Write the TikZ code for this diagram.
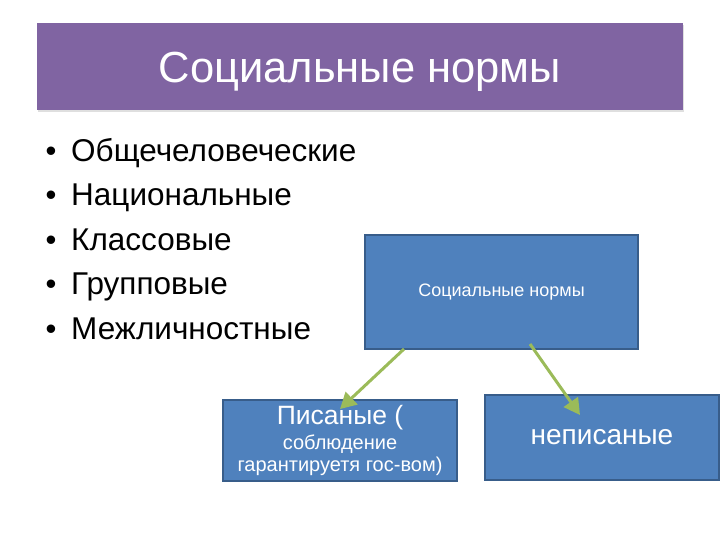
\documentclass[tikz,border=0pt]{standalone}
\usepackage{fontspec}
\setmainfont{Liberation Sans}
\usetikzlibrary{arrows.meta,shadows}
\definecolor{titlepurple}{HTML}{8064A2}
\definecolor{boxblue}{HTML}{4F81BD}
\definecolor{boxborder}{HTML}{385D8A}
\definecolor{arrowgreen}{HTML}{9BBB59}
\tikzset{
  bluebox/.style={draw=boxborder, line width=1.2pt, fill=boxblue, text=white, align=center, inner sep=0pt},
  greenarrow/.style={draw=arrowgreen, line width=3pt, -{Triangle[length=16pt,width=17pt]}},
  bulletitem/.style={anchor=base west, font=\fontsize{31.5}{34}\selectfont, inner sep=0pt},
}
\begin{document}
\begin{tikzpicture}[x=1pt,y=-1pt]
\useasboundingbox (0,0) rectangle (720,540);
% title
\node[fill=titlepurple, minimum width=646pt, minimum height=87pt, inner sep=0pt,
      drop shadow={shadow xshift=1pt, shadow yshift=-2pt, fill=black!25}] (title) at (360,66.5) {};
\node[text=white, font=\fontsize{43.5}{46}\selectfont, anchor=base, inner sep=0pt] (titletext) at (360,82.5) {Социальные нормы};
% bullets
\foreach \t/\y [count=\i] in {Общечеловеческие/162, Национальные/206, Классовые/250, Групповые/294, Межличностные/339}{
  \node[bulletitem] (b\i) at (71,\y) {\t};
  \node[font=\fontsize{31}{34}\selectfont, inner sep=0pt, anchor=base] (d\i) at (51,\y) {•};
}
% boxes
\node[bluebox, minimum width=273pt, minimum height=114pt, font=\fontsize{18}{20}\selectfont] (root) at (501.5,292) {Социальные нормы};
\node[bluebox, minimum width=234pt, minimum height=81pt, font=\fontsize{20}{21}\selectfont] (left) at (340,440.5)
  {{\fontsize{26.5}{27}\selectfont Писаные (}\\[4pt]соблюдение\\[1pt]гарантируетя гос-вом)};
\node[bluebox, minimum width=234pt, minimum height=85pt, font=\fontsize{28}{30}\selectfont] (right) at (602,437.5) {неписаные};
% arrows
\coordinate (a1s) at (404,349);
\coordinate (a1e) at (340,409);
\coordinate (a2s) at (530,344);
\coordinate (a2e) at (580,415);
\draw[greenarrow] (a1s) -- (a1e);
\draw[greenarrow] (a2s) -- (a2e);
\end{tikzpicture}
\end{document}
